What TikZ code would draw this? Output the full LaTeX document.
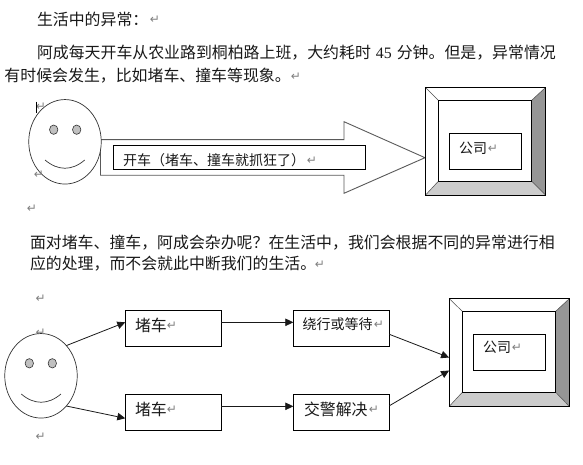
\documentclass[tikz,border=0pt]{standalone}
\usepackage{fontspec}
\setmainfont{Noto Sans CJK SC}
\newfontfamily\symfont{DejaVu Sans}
\newfontfamily\latinfont{Liberation Serif}
\usetikzlibrary{arrows.meta,shapes.geometric}
\definecolor{bevelside}{HTML}{969696}
\definecolor{bevelbottom}{HTML}{CCCCCC}
\definecolor{eyegray}{HTML}{C0C0C0}
\definecolor{headline}{HTML}{333333}
\tikzset{
  x=1pt,y=-1pt,
  every node/.append style={outer sep=0pt},
  para/.style={inner sep=0pt,anchor=west,font=\fontsize{15.9}{16}\selectfont,text=black!90},
  smalltxt/.style={inner sep=0pt,anchor=west,font=\fontsize{14}{15}\selectfont,text=black!90},
  retmark/.style={inner sep=0pt,text=black!50,font=\symfont\fontsize{12}{12}\selectfont},
  face/.style={draw=headline,line width=0.7pt,fill=white,ellipse,inner sep=0pt,minimum width=72.5pt,minimum height=84.5pt},
  eye/.style={draw=headline,line width=0.6pt,fill=eyegray,ellipse,inner sep=0pt,minimum width=8.4pt,minimum height=9.4pt},
  mouth/.style={draw=headline,line width=0.7pt},
  boxn/.style={draw=black,line width=0.8pt,fill=white,inner sep=0pt,minimum width=96pt,minimum height=36pt},
  outerb/.style={draw=black,line width=0.9pt,fill=white,inner sep=0pt,minimum width=120.4pt,minimum height=108pt},
  innerb/.style={draw=black,line width=0.9pt,fill=white,inner sep=0pt,minimum width=93.4pt,minimum height=81pt},
  corpb/.style={draw=black,line width=0.8pt,fill=white,inner sep=0pt,minimum width=72pt,minimum height=36pt},
  conn/.style={draw=black!90,line width=0.8pt,-{Triangle[length=8pt,width=7.5pt]}},
  bigarrow/.style={draw=black!65,line width=0.9pt,fill=white},
}
\newcommand{\bevelparts}[2]{%
  \fill[bevelside] (#1.north east) -- (#2.north east) -- (#2.south east) -- (#1.south east) -- cycle;
  \fill[bevelbottom] (#1.south west) -- (#2.south west) -- (#2.south east) -- (#1.south east) -- cycle;
  \draw[black!70,line width=0.5pt] (#1.north west) -- (#2.north west) (#1.north east) -- (#2.north east)
     (#1.south west) -- (#2.south west) (#1.south east) -- (#2.south east);
  \draw[black,line width=0.9pt] (#1.north west) rectangle (#1.south east);
  \draw[black,line width=0.9pt] (#2.north west) rectangle (#2.south east);
}
\begin{document}
\begin{tikzpicture}
\useasboundingbox (0,0) rectangle (583,465);
\fill[white] (0,0) rectangle (583,465);

% text paragraphs
\node[para] (t1) at (37,19) {生活中的异常：};
\node[retmark] (r1) at (155,20) {↵};
\node[para] (t2) at (37,53) {阿成每天开车从农业路到桐柏路上班，大约耗时\hspace{5pt}{\latinfont 45}\hspace{5pt}分钟。但是，异常情况};
\node[para] (t3) at (4.5,76) {有时候会发生，比如堵车、撞车等现象。};
\node[retmark] (r2) at (296,77) {↵};
\node[para] (t4) at (30,243) {面对堵车、撞车，阿成会杂办呢？在生活中，我们会根据不同的异常进行相};
\node[para] (t5) at (30,264) {应的处理，而不会就此中断我们的生活。};
\node[retmark] (r3) at (320,265) {↵};

% upper diagram: arrow behind the face
\draw[bigarrow] (100.5,139.7) -- (344,139.7) -- (344,121.7) -- (425,157.7) -- (344,193.3) -- (344,175.3) -- (100.5,175.3) -- cycle;
\node[retmark] (r6) at (32,209) {↵};
\node[face] (f1) at (65,141.8) {};
\node[retmark] (r4) at (41,107) {↵};
\node[retmark] (r5) at (39,175) {↵};
\draw[black,line width=1.4pt] (36.7,101.7) -- (36.7,113);
\node[eye] (e1) at (53.7,129.7) {};
\node[eye] (e2) at (76.7,129.7) {};
\draw[mouth] (45,160) .. controls (58,171) and (72,171) .. (84.7,160);
\node[draw=black,line width=0.8pt,fill=white,inner sep=0pt,minimum width=252pt,minimum height=24pt] (drive) at (239.3,157.3) {};
\node[smalltxt] (drivet) at (123,160) {开车（堵车、撞车就抓狂了）};
\node[retmark] (r7) at (312,161) {↵};

\node[outerb] (co1) at (485.5,141.3) {};
\node[innerb] (in1) at (485,140.8) {};
\bevelparts{co1}{in1}
\node[corpb] (cb1) at (485.3,151.3) {};
\node[smalltxt] (ct1) at (459,148) {公司};
\node[retmark] (r8) at (493,149) {↵};

% lower diagram
\node[retmark] (r9) at (40.7,298.7) {↵};
\node[retmark] (r10) at (40.7,333) {↵};
\node[face] (f2) at (41,375.8) {};
\node[eye] (e3) at (29.3,363.3) {};
\node[eye] (e4) at (52.3,363.3) {};
\draw[mouth] (21.3,394) .. controls (34,405) and (48,405) .. (61,394);
\node[retmark] (r11) at (40.7,437) {↵};

\node[boxn] (a) at (173.3,328.3) {};
\node[boxn] (b) at (173.3,412.3) {};
\node[boxn] (c) at (341.3,328.3) {};
\node[boxn] (d) at (341.3,412.3) {};
\node[para] (ta) at (135,325) {堵车};
\node[retmark] (r12) at (172,326) {↵};
\node[para] (tb) at (135,409) {堵车};
\node[retmark] (r13) at (172,410) {↵};
\node[smalltxt] (tc) at (302.7,324) {绕行或等待};
\node[retmark] (r14) at (379,325) {↵};
\node[para] (td) at (304,409) {交警解决};
\node[retmark] (r15) at (374,410) {↵};

\node[outerb] (co2) at (509.3,352.5) {};
\node[innerb] (in2) at (509,351.8) {};
\bevelparts{co2}{in2}
\node[corpb] (cb2) at (509.3,352.3) {};
\node[smalltxt] (ct2) at (483,347.3) {公司};
\node[retmark] (r16) at (517,348) {↵};

\draw[conn] (f2.50.7) -- ([yshift=6pt]a.west);
\draw[conn] (f2.-50.7) -- ([yshift=-6pt]b.west);
\draw[conn] ([yshift=6pt]a.east) -- ([yshift=6pt]c.west);
\draw[conn] ([yshift=6pt]b.east) -- ([yshift=6pt]d.west);
\draw[conn] ([yshift=-6pt]c.east) -- ([yshift=-5pt]co2.west);
\draw[conn] ([yshift=6.5pt]d.east) -- ([yshift=-18pt]co2.west);
\end{tikzpicture}
\end{document}
